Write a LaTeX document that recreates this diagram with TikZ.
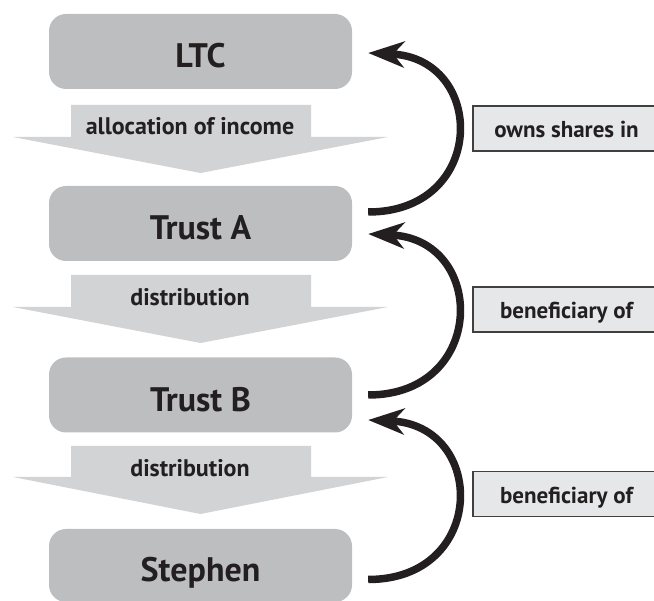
\documentclass[tikz,border=0pt]{standalone}
\usepackage{fontspec}
\setmainfont{PT Sans}
\usetikzlibrary{arrows.meta}
\definecolor{boxgray}{HTML}{BCBEC0}
\definecolor{arrowgray}{HTML}{D1D3D4}
\definecolor{labelgray}{HTML}{E6E7E8}
\definecolor{ink}{HTML}{231F20}
\definecolor{edgegray}{HTML}{404041}
\begin{document}
\begin{tikzpicture}[x=1pt,y=-1pt,
  entity/.style={fill=boxgray, rounded corners=17pt, minimum width=303pt, minimum height=75pt,
    inner sep=0pt, text=ink, font=\bfseries\fontsize{34}{40}\selectfont,
    text height=33pt, text depth=0pt},
  flowtxt/.style={anchor=base, inner sep=0pt, text=ink, font=\bfseries\fontsize{24}{28}\selectfont},
  flowarrow/.style={fill=arrowgray},
  relbox/.style={fill=labelgray, draw=edgegray, line width=1.2pt, minimum width=187pt,
    minimum height=45pt, inner sep=0pt, text=ink, font=\bfseries\fontsize{23}{27}\selectfont,
    text height=19pt, text depth=0pt},
  curv/.style={draw=ink, line width=7.5pt, -{Stealth[length=36pt,width=26pt,inset=11pt]}}
]
\useasboundingbox (0,0) rectangle (654,601);
\clip (0,0) rectangle (654,601);

% flow arrows
\foreach \t/\b/\p in {105/137/173, 275/307/343, 446/477/514} {
  \fill[flowarrow] (71,\t) -- (311,\t) -- (311,\b) -- (388,\b) -- (200.5,\p)
    -- (13,\b) -- (71,\b) -- cycle;
}
\node[flowtxt] (f1) at (190,135) {allocation of income};
\node[flowtxt] (f2) at (190,306) {distribution};
\node[flowtxt] (f3) at (190,477) {distribution};

% entities
\node[entity] (ltc) at (200.5,51.5) {LTC};
\node[entity] (trustA) at (200.5,223.5) {Trust A};
\node[entity] (trustB) at (200.5,395) {Trust B};
\node[entity, minimum height=73pt] (stephen) at (200.5,565.5) {Stephen};

% relation labels
\node[relbox] (r1) at (566.5,128.5) {owns shares in};
\node[relbox] (r2) at (566.5,309.5) {beneficiary of};
\node[relbox] (r3) at (566.5,494) {beneficiary of};

% curved arrows
\coordinate (a1s) at ([shift={(16,-11.5)}]trustA.east);
\coordinate (a1e) at ([shift={(16,1.5)}]ltc.east);
\coordinate (a2s) at ([shift={(16,0)}]trustB.east);
\coordinate (a2e) at ([shift={(16,10.5)}]trustA.east);
\coordinate (a3s) at ([shift={(16,14)}]stephen.east);
\coordinate (a3e) at ([shift={(16,25)}]trustB.east);
\draw[curv] (a1s) .. controls +(119,0) and +(119,5) .. (a1e);
\draw[curv] (a2s) .. controls +(119,0) and +(119,5) .. (a2e);
\draw[curv] (a3s) .. controls +(119,0) and +(119,5) .. (a3e);
\end{tikzpicture}
\end{document}
